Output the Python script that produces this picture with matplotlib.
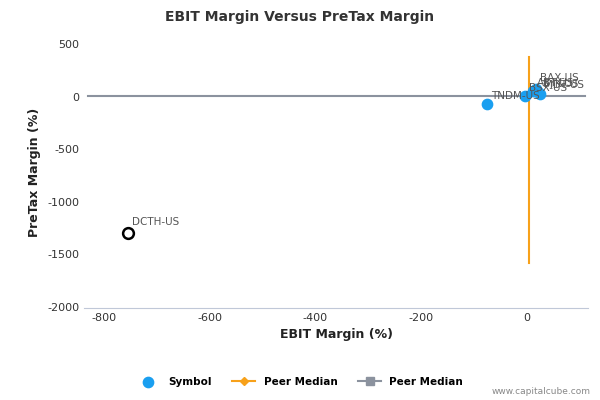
import matplotlib.pyplot as plt
plt.rcParams['axes.unicode_minus'] = False

symbols = ['DCTH-US', 'TNDM-US', 'BSX-US', 'BAX-US', 'MDT-US', 'ABT-US', 'SYK-US']
ebit = [-755, -74, -2, 18, 26, 12, 22]
pretax = [-1300, -72, 5, 75, 30, 55, 45]
label_offsets = [(3, 6), (3, 4), (3, 4), (3, 6), (3, 4), (3, 4), (3, 4)]
peer_median_x = 5
peer_median_y = 5

fig, ax = plt.subplots(figsize=(6, 4), dpi=100)
fig.subplots_adjust(left=0.14, right=0.98, top=0.91, bottom=0.23)

ax.plot([peer_median_x, peer_median_x], [380, -1580], color='#f7a11a', lw=1.5, zorder=1)
ax.plot([-830, 112], [peer_median_y, peer_median_y], color='#8b929e', lw=1.5, zorder=1)

for i, s in enumerate(symbols):
    if s == 'DCTH-US':
        ax.scatter(ebit[i], pretax[i], s=60, facecolor='white', edgecolor='black', lw=1.8, zorder=3)
    else:
        ax.scatter(ebit[i], pretax[i], s=55, color='#1a9ff0', zorder=3)
    ax.annotate(s, (ebit[i], pretax[i]), xytext=label_offsets[i], textcoords='offset points',
                fontsize=7.5, color='#555555', zorder=4)

ax.set_xlim(-838, 117)
ax.set_ylim(-2010, 580)
ax.set_xticks([-800, -600, -400, -200, 0])
ax.set_yticks([500, 0, -500, -1000, -1500, -2000])
ax.tick_params(labelsize=8, colors='#333333', length=0)
for side in ['top', 'right', 'left']:
    ax.spines[side].set_visible(False)
ax.spines['bottom'].set_color('#c0c8d8')
ax.set_xlabel('EBIT Margin (%)', fontsize=9, fontweight='bold', color='#222222')
ax.set_ylabel('PreTax Margin (%)', fontsize=9, fontweight='bold', color='#222222')
fig.suptitle('EBIT Margin Versus PreTax Margin', fontsize=10, fontweight='bold', color='#333333', y=0.975)

h1 = ax.scatter([], [], s=55, color='#1a9ff0')
h2, = ax.plot([], [], color='#f7a11a', marker='D', markersize=4, lw=1.5)
h3, = ax.plot([], [], color='#8b929e', marker='s', markersize=6, lw=1.5)
fig.legend([h1, h2, h3], ['Symbol', 'Peer Median', 'Peer Median'], loc='center',
           bbox_to_anchor=(0.5, 0.045), ncol=3, frameon=False,
           prop={'size': 7.5, 'weight': 'bold'}, handlelength=2.2)
fig.text(0.985, 0.01, 'www.capitalcube.com', ha='right', va='bottom', fontsize=6.5, color='#888888')

fig.savefig('out.png')
